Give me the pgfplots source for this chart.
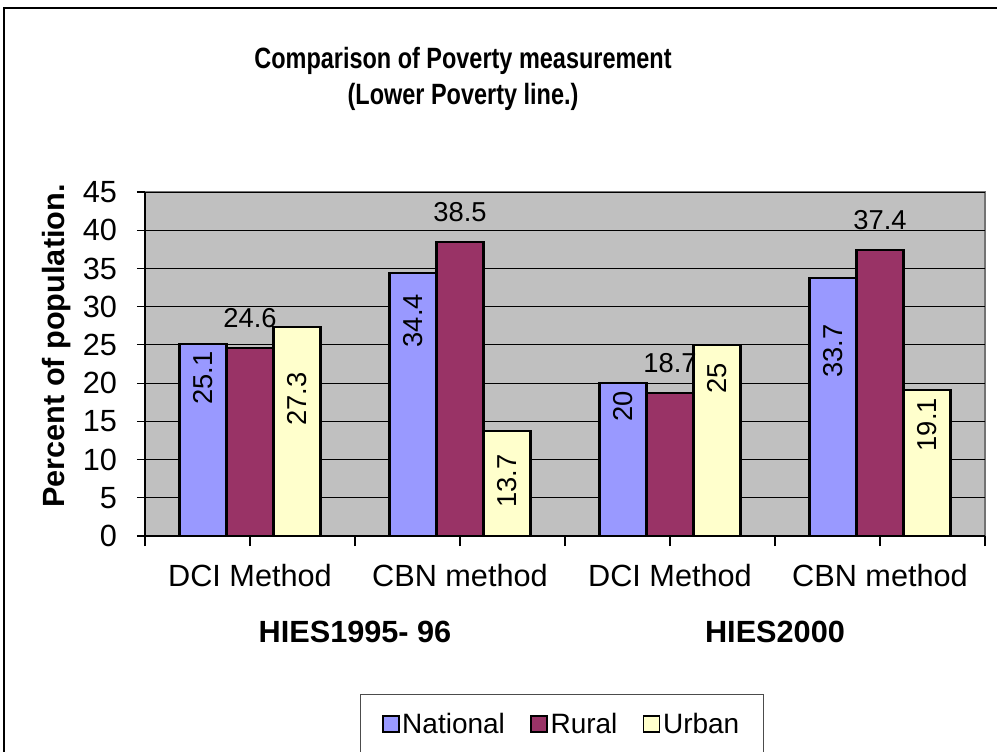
\documentclass[border=0pt]{standalone}
\usepackage{fontspec}
\setmainfont{Liberation Sans}
\usepackage{pgfplots}
\pgfplotsset{compat=1.18}
\definecolor{cNat}{HTML}{9999FF}
\definecolor{cRur}{HTML}{993366}
\definecolor{cUrb}{HTML}{FFFFCC}
\definecolor{cBg}{HTML}{C0C0C0}
\begin{document}
\begin{tikzpicture}
\useasboundingbox (-108.75pt,-161.25pt) rectangle (639pt,402pt);
\begin{axis}[
  at={(0,0)}, anchor=south west,
  scale only axis, width=630pt, height=258pt,
  xmin=-0.5, xmax=3.5, ymin=0, ymax=45,
  ybar=0pt, bar width=35.25pt,
  clip=false,
  axis x line*=bottom, axis y line*=left,
  axis line style={black, line width=0.8pt, -},
  axis background/.style={fill=cBg, draw=gray!90!black, line width=0.8pt},
  ytick={0,5,...,45},
  ymajorgrids, major grid style={black, line width=0.6pt},
  tick align=outside,
  major tick length=6pt,
  ytick style={black, line width=0.8pt},
  xtick={-0.5,0.5,1.5,2.5,3.5}, xticklabels={},
  xtick style={black, line width=0.8pt, /pgfplots/major tick length=7.5pt},
  extra x ticks={0,1,2,3},
  extra x tick labels={DCI Method,CBN method,DCI Method,CBN method},
  extra x tick style={major tick length=0pt, xticklabel style={yshift=-18pt}},
  ticklabel style={font=\fontsize{23}{27}\selectfont},
  yticklabel style={xshift=-11.5pt},
  /pgf/number format/assume math mode=true,
  legend style={at={(0.4964,-0.4593)}, anchor=north, legend columns=3,
    draw=gray!60!black, line width=0.6pt, fill=white,
    font=\fontsize{21}{25}\selectfont,
    inner xsep=16pt, inner ysep=12pt,
    /tikz/every even column/.append style={column sep=17pt}},
  legend image code/.code={\draw[#1, draw=black, line width=1.2pt] (0pt,-6pt) rectangle (12pt,6pt);},
  rotlabel/.style={nodes near coords, point meta=explicit symbolic,
    every node near coord/.append style={rotate=90, anchor=east, inner sep=0pt,
      font=\fontsize{20.5}{24}\selectfont, text=black}},
]
% label text carries trailing space = gap between bar top and the rotated label
\addplot[fill=cNat, draw=black, line width=1.6pt, rotlabel] coordinates {
  (0,25.1) [25.1\hspace*{4.5pt}]
  (1,34.4) [34.4\hspace*{15pt}]
  (2,20)   [20\hspace*{5.25pt}]
  (3,33.7) [33.7\hspace*{33.75pt}]
};
\addplot[fill=cRur, draw=black, line width=1.6pt,
  nodes near coords,
  every node near coord/.append style={anchor=south, yshift=11pt, font=\fontsize{20.5}{24}\selectfont, text=black}]
  coordinates {(0,24.6) (1,38.5) (2,18.7) (3,37.4)};
\addplot[fill=cUrb, draw=black, line width=1.6pt, rotlabel] coordinates {
  (0,27.3) [27.3\hspace*{33pt}]
  (1,13.7) [13.7\hspace*{16.5pt}]
  (2,25)   [25\hspace*{12.75pt}]
  (3,19.1) [19.1\hspace*{5.25pt}]
};
\legend{National,Rural,Urban}
\node[font=\bfseries\fontsize{23}{27}\selectfont] at (axis cs:0.5,0) [yshift=-72pt] {HIES1995- 96};
\node[font=\bfseries\fontsize{23}{27}\selectfont] at (axis cs:2.5,0) [yshift=-72pt] {HIES2000};
\node[font=\bfseries\fontsize{23}{27}\selectfont, rotate=90] at ([xshift=-66pt]rel axis cs:0,0.552) {Percent of population.};
\node[font=\bfseries\fontsize{22}{27}\selectfont, align=center, xscale=0.8] at ([yshift=84.5pt]rel axis cs:0.3786,1) {Comparison of Poverty measurement\\(Lower Poverty line.)};
\end{axis}
\draw[line width=1.5pt] (-105.75pt,-165pt) -- (-105.75pt,396pt) -- (645pt,396pt);
\end{tikzpicture}
\end{document}
